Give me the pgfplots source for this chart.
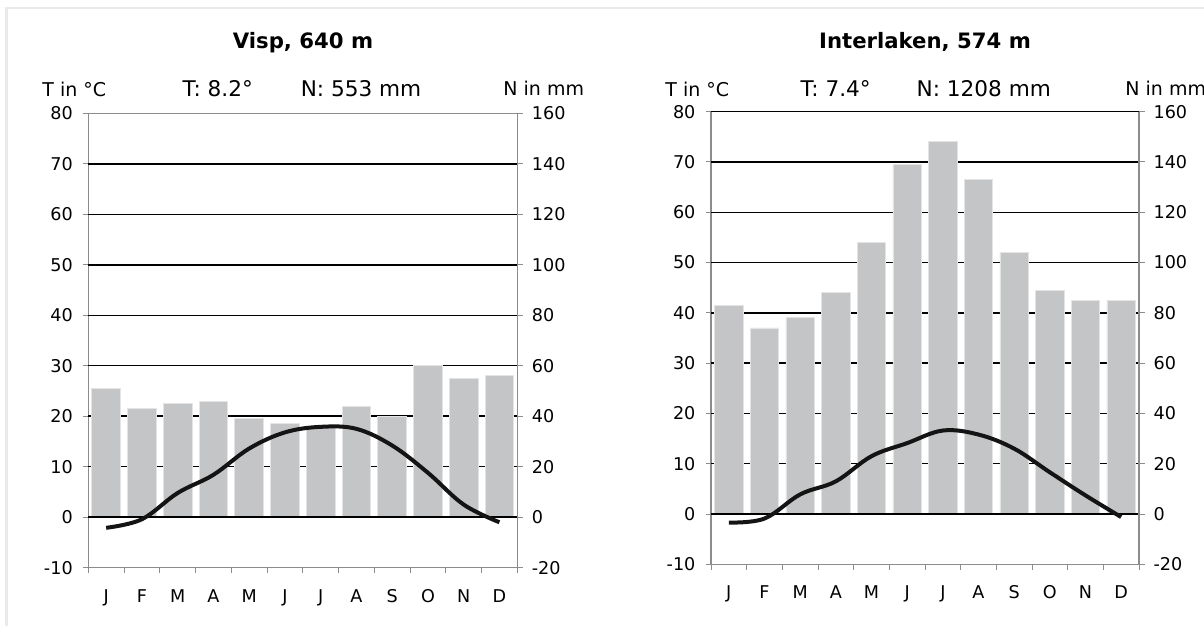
\documentclass[border=0pt]{standalone}
\usepackage{pgfplots}
\pgfplotsset{compat=1.18}
\usepackage{pgfplotstable}
\usepackage{fontspec}
\setmainfont{DejaVu Sans}
\definecolor{barfill}{RGB}{196,197,199}
\definecolor{baredge}{RGB}{228,228,228}
\definecolor{axgray}{RGB}{140,140,140}
\definecolor{framegray}{RGB}{234,234,234}

% month centre, precipitation (mm), temperature (deg C)
\pgfplotstableread{
m    N    T
0.5  51  -2.1
1.5  43  -0.4
2.5  45   4.8
3.5  46   8.4
4.5  39  13.6
5.5  37  16.8
6.5  36  17.9
7.5  44  17.5
8.5  40  14.2
9.5  60   8.8
10.5 55   2.5
11.5 56  -1.0
}\visp

\pgfplotstableread{
m    N    T
0.5  83  -1.7
1.5  74  -0.9
2.5  78   3.9
3.5  88   6.5
4.5  108 11.5
5.5  139 14.1
6.5  148 16.6
7.5  133 15.8
8.5  104 13.0
9.5  89   8.3
10.5 85   3.7
11.5 85  -0.6
}\interlaken

\pgfplotsset{
  climate/.style={
    scale only axis, anchor=south west,
    xmin=0, xmax=12, ymin=-10, ymax=80,
    xtick={0,1,...,12}, x tick label as interval,
    xticklabels={J,F,M,A,M,J,J,A,S,O,N,D},
    ytick={-10,0,10,20,30,40,50,60,70,80},
    yticklabels={-10,0,10,20,30,40,50,60,70,80},
    xtick pos=bottom, ytick pos=left,
    tick align=outside, major tick length=2.75pt,
    tick style={axgray, line width=0.5pt},
    axis line style={axgray, line width=0.6pt},
    ticklabel style={font=\fontsize{8.8}{10}\selectfont},
    xticklabel style={yshift=-4.5pt},
    yticklabel style={xshift=-1.5pt},
    clip=false,
  },
  mmaxis/.style={
    scale only axis, anchor=south west,
    xmin=0, xmax=12, ymin=-20, ymax=160,
    axis x line=none, axis y line*=right,
    ytick={-20,0,20,40,60,80,100,120,140,160},
    yticklabels={-20,0,20,40,60,80,100,120,140,160},
    tick align=outside, major tick length=2.75pt,
    tick style={axgray, line width=0.5pt},
    axis line style={axgray, line width=0.6pt},
    ticklabel style={font=\fontsize{8.8}{10}\selectfont},
    yticklabel style={xshift=1pt},
  },
  bars/.style={ybar, bar width=0.8, fill=barfill, draw=baredge, line width=0.4pt},
  tcurve/.style={black!92, line width=2pt, smooth, tension=0.6},
  gridl/.style={black, line width=0.75pt},
}

\begin{document}
\begin{tikzpicture}
\path[use as bounding box] (0,0) rectangle (602pt,313pt);
\draw[framegray, line width=1.2pt] (3.25pt,0) -- (3.25pt,309pt) -- (602pt,309pt);

% ---------- Visp ----------
\begin{axis}[climate, at={(44.15pt,29.15pt)}, width=214.5pt, height=227.2pt]
\addplot[gridl] coordinates {(0,10) (12,10)};
\addplot[gridl] coordinates {(0,20) (12,20)};
\addplot[gridl] coordinates {(0,30) (12,30)};
\addplot[gridl] coordinates {(0,40) (12,40)};
\addplot[gridl] coordinates {(0,50) (12,50)};
\addplot[gridl] coordinates {(0,60) (12,60)};
\addplot[gridl] coordinates {(0,70) (12,70)};
\addplot[bars] table[x=m, y expr=\thisrow{N}/2] {\visp};
\addplot[gridl] coordinates {(0,0) (12,0)};
\addplot[tcurve] table[x=m, y=T] {\visp};
\end{axis}
\begin{axis}[mmaxis, at={(44.15pt,29.15pt)}, width=214.5pt, height=227.2pt]
\end{axis}

% ---------- Interlaken ----------
\begin{axis}[climate, at={(355.5pt,30.85pt)}, width=214pt, height=226.3pt]
\addplot[gridl] coordinates {(0,10) (12,10)};
\addplot[gridl] coordinates {(0,20) (12,20)};
\addplot[gridl] coordinates {(0,30) (12,30)};
\addplot[gridl] coordinates {(0,40) (12,40)};
\addplot[gridl] coordinates {(0,50) (12,50)};
\addplot[gridl] coordinates {(0,60) (12,60)};
\addplot[gridl] coordinates {(0,70) (12,70)};
\addplot[gridl] coordinates {(0,80) (12,80)};
\addplot[bars] table[x=m, y expr=\thisrow{N}/2] {\interlaken};
\addplot[gridl] coordinates {(0,0) (12,0)};
\addplot[tcurve] table[x=m, y=T] {\interlaken};
\end{axis}
\begin{axis}[mmaxis, at={(355.5pt,30.85pt)}, width=214pt, height=226.3pt]
\end{axis}

% ---------- texts ----------
\node[anchor=base, font=\bfseries\fontsize{10.6}{12}\selectfont] at (151.5pt,288.6pt) {Visp, 640 m};
\node[anchor=base, font=\bfseries\fontsize{10.6}{12}\selectfont] at (462.5pt,288.6pt) {Interlaken, 574 m};

\node[anchor=base west, inner sep=0pt, font=\fontsize{9.5}{11}\selectfont] at (21pt,264.5pt) {T in °C};
\node[anchor=base west, inner sep=0pt, font=\fontsize{9.5}{11}\selectfont] at (332.5pt,264.5pt) {T in °C};
\node[anchor=base west, inner sep=0pt, font=\fontsize{9.5}{11}\selectfont] at (251.5pt,265pt) {N in mm};
\node[anchor=base west, inner sep=0pt, font=\fontsize{9.5}{11}\selectfont] at (562.5pt,265pt) {N in mm};

\node[anchor=base, inner sep=0pt, font=\fontsize{10.8}{12}\selectfont] at (108.9pt,264.6pt) {T: 8.2°};
\node[anchor=base, inner sep=0pt, font=\fontsize{10.8}{12}\selectfont] at (180.5pt,264.6pt) {N: 553 mm};
\node[anchor=base, inner sep=0pt, font=\fontsize{10.8}{12}\selectfont] at (417.8pt,264.6pt) {T: 7.4°};
\node[anchor=base, inner sep=0pt, font=\fontsize{10.8}{12}\selectfont] at (491.9pt,264.6pt) {N: 1208 mm};
\end{tikzpicture}
\end{document}
